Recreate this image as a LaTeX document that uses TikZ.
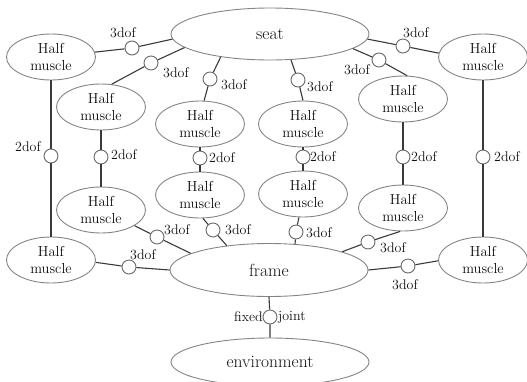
\documentclass[tikz,border=0pt]{standalone}
\usepackage{fontspec}
\usetikzlibrary{shapes.geometric}
\definecolor{edgec}{HTML}{3A3A3A}
\definecolor{ellc}{HTML}{858585}
\definecolor{txtc}{HTML}{101010}
\tikzset{
  half/.style={ellipse, draw=ellc, line width=0.9pt, fill=white, minimum width=89pt, minimum height=46pt, inner sep=0pt, align=center, text=txtc, font=\rmfamily\fontsize{14.5}{17}\selectfont},
  big/.style={ellipse, draw=ellc, line width=0.9pt, fill=white, minimum width=198pt, minimum height=52pt, inner sep=0pt, text=txtc, font=\rmfamily\fontsize{17.5}{20}\selectfont},
  jnt/.style={circle, draw=ellc!80!black, line width=0.9pt, fill=white, minimum size=14pt, inner sep=0pt},
  lbl/.style={text=txtc, inner sep=0pt, font=\rmfamily\fontsize{14}{16}\selectfont},
  conn/.style={draw=edgec, line width=1.1pt}
}
\begin{document}
\begin{tikzpicture}[x=1pt, y=-1pt]
\useasboundingbox (0,0) rectangle (527,381);
% main bodies
\node[big] (seat) at (270,34) {seat};
\node[big, minimum height=53pt] (frame) at (269,270) {frame};
\node[big, minimum height=48pt] (env) at (270,362) {environment};
% half muscles
\node[half] (hm1) at (51,57) {Half\\muscle};
\node[half] (hm1b) at (51,260) {Half\\muscle};
\node[half] (hm2) at (101,107) {Half\\muscle};
\node[half] (hm2b) at (101,210) {Half\\muscle};
\node[half] (hm3) at (200,124) {Half\\muscle};
\node[half] (hm3b) at (200,195) {Half\\muscle};
\node[half] (hm4) at (303,124) {Half\\muscle};
\node[half] (hm4b) at (303,194) {Half\\muscle};
\node[half] (hm5) at (403,99) {Half\\muscle};
\node[half] (hm5b) at (403,208) {Half\\muscle};
\node[half] (hm6) at (483,57) {Half\\muscle};
\node[half] (hm6b) at (483,260) {Half\\muscle};
% joints seat
\node[jnt] (j1) at (132,48) {};
\node[jnt] (j2) at (151,63) {};
\node[jnt] (j3) at (210,79) {};
\node[jnt] (j4) at (298,80) {};
\node[jnt] (j5) at (379,60) {};
\node[jnt] (j6) at (403,46) {};
% joints vertical
\node[jnt] (k1) at (51,156) {};
\node[jnt] (k2) at (101,157) {};
\node[jnt] (k3) at (200,158) {};
\node[jnt] (k4) at (303,157) {};
\node[jnt] (k5) at (403,157) {};
\node[jnt] (k6) at (483,157) {};
% joints frame
\node[jnt] (f1) at (129,267) {};
\node[jnt] (f2) at (157,237) {};
\node[jnt] (f3) at (213,230) {};
\node[jnt] (f4) at (296,232) {};
\node[jnt] (f5) at (368,242) {};
\node[jnt] (f6) at (408,266) {};
\node[jnt] (je) at (270,317) {};
% connectors to seat
\draw[conn] (hm1) -- (j1) -- (seat.183);
\draw[conn] (hm2.65) -- (j2) -- (seat.189);
\draw[conn] (hm3.80) -- (j3) -- (seat.205);
\draw[conn] (hm4.90) -- (j4) -- (seat.309);
\draw[conn] (hm5.80) -- (j5) -- (seat.350);
\draw[conn] (hm6.175) -- (j6) -- (seat.357);
% vertical connectors
\draw[conn] (hm1.south) -- (k1) -- (hm1b.north);
\draw[conn] (hm2.south) -- (k2) -- (hm2b.north);
\draw[conn] (hm3.south) -- (k3) -- (hm3b.north);
\draw[conn] (hm4.south) -- (k4) -- (hm4b.north);
\draw[conn] (hm5.south) -- (k5) -- (hm5b.north);
\draw[conn] (hm6.south) -- (k6) -- (hm6b.north);
% connectors to frame
\draw[conn] (hm1b.357) -- (f1) -- (frame.180);
\draw[conn] (hm2b.335) -- (f2) -- (frame.168);
\draw[conn] (hm3b.277) -- (f3) -- (frame.150);
\draw[conn] (hm4b.260) -- (f4) -- (frame.45);
\draw[conn] (hm5b.263) -- (f5) -- (frame.14);
\draw[conn] (hm6b.181) -- (f6) -- (frame.0);
\draw[conn] (frame.south) -- (je) -- (env.north);
% labels
\node[lbl] (l1) at (123,33) {3dof};
\node[lbl] (l2) at (176,73) {3dof};
\node[lbl] (l3) at (234,85) {3dof};
\node[lbl] (l4) at (320,87) {3dof};
\node[lbl] (l5) at (357,70) {3dof};
\node[lbl] (l6) at (416,33) {3dof};
\node[lbl] (m1) at (28,147) {2dof};
\node[lbl, anchor=west] (m2) at (111,155) {2dof};
\node[lbl, anchor=west] (m3) at (209,158) {2dof};
\node[lbl, anchor=west] (m4) at (310,157) {2dof};
\node[lbl, anchor=west] (m5) at (411,157) {2dof};
\node[lbl, anchor=west] (m6) at (494,157) {2dof};
\node[lbl] (n1) at (143,255) {3dof};
\node[lbl] (n2) at (177,230) {3dof};
\node[lbl] (n3) at (238,230) {3dof};
\node[lbl] (n4) at (319,233) {3dof};
\node[lbl] (n5) at (393,248) {3dof};
\node[lbl] (n6) at (405,285) {3dof};
\node[lbl, anchor=east] (fx) at (263,317) {fixed};
\node[lbl, anchor=west] (jt) at (278,317) {joint};
\end{tikzpicture}
\end{document}
